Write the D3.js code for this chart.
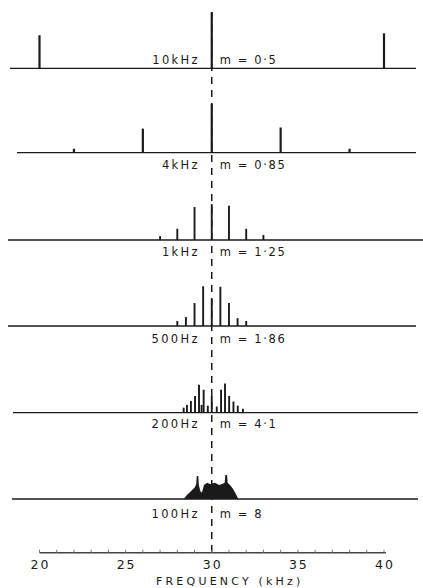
<!DOCTYPE html>
<html><head><meta charset="utf-8">
<script src="https://cdn.jsdelivr.net/npm/d3@7/dist/d3.min.js"></script>
<style>body{margin:0;background:#fff}svg{display:block}</style>
</head><body>
<script>
// ---------------- DATA ----------------
const carrierKHz = 30;
const modFreqs = ["10kHz", "4kHz", "1kHz", "500Hz", "200Hz", "100Hz"];
const modIndex = ["m = 0·5", "m = 0·85", "m = 1·25", "m = 1·86", "m = 4·1", "m = 8"];

// spectral lines: offset from carrier (kHz) and relative amplitude
const p1Offsets = [-10, 0, 10];
const p1Amps    = [0.59, 1.0, 0.625];
const p2Offsets = [-8, -4, 0, 4, 8];
const p2Amps    = [0.07, 0.43, 0.875, 0.45, 0.07];
const p3Offsets = [-3, -2, -1, 0, 1, 2, 3];
const p3Amps    = [0.07, 0.2, 0.59, 0.64, 0.61, 0.2, 0.09];
const p4Offsets = [-2, -1.5, -1, -0.5, 0, 0.5, 1, 1.5, 2];
const p4Amps    = [0.09, 0.16, 0.41, 0.71, 0.48, 0.70, 0.41, 0.14, 0.09];
const p5Offsets = [-1.63, -1.44, -1.21, -0.97, -0.74, -0.59, -0.47, -0.23, 0, 0.29, 0.54, 0.77, 1.01, 1.26, 1.51, 1.81];
const p5Amps    = [0.09, 0.14, 0.21, 0.30, 0.50, 0.14, 0.41, 0.125, 0.30, 0.11, 0.41, 0.52, 0.30, 0.20, 0.125, 0.07];
// 100 Hz: lines merge into a filled envelope
const p6Offsets = [-1.62, -1.44, -1.21, -0.98, -0.90, -0.87, -0.78, -0.75, -0.66, -0.57, -0.45, -0.27, -0.10, 0.19, 0.42, 0.60, 0.75, 0.79, 0.89, 0.92, 1.06, 1.24, 1.36, 1.48, 1.54];
const p6Amps    = [0, 0.07, 0.14, 0.21, 0.27, 0.41, 0.41, 0.25, 0.14, 0.11, 0.25, 0.29, 0.27, 0.29, 0.25, 0.27, 0.29, 0.43, 0.43, 0.29, 0.25, 0.18, 0.11, 0.04, 0];

const axisMin = 20, axisMax = 40;
const tickLabels = ["20", "25", "30", "35", "40"];
const axisTitle = "FREQUENCY (kHz)";

// ---------------- LAYOUT ----------------
const W = 423, H = 588;
const svg = d3.select("body").append("svg").attr("width", W).attr("height", H)
  .style("background", "#fff");

const x = d3.scaleLinear().domain([axisMin, axisMax]).range([39.5, 384]);
const amp = d3.scaleLinear().domain([0, 1]).range([0, 56]);
const panelBase = [68.3, 152.7, 240, 326, 412.7, 499];

const lineSets = [
  [p1Offsets, p1Amps], [p2Offsets, p2Amps], [p3Offsets, p3Amps],
  [p4Offsets, p4Amps], [p5Offsets, p5Amps]
];
const baseExtents = [[10, 416], [17, 416], [8, 423], [8, 416], [13, 418], [12, 418]];
const labelDy = [-4.5, 16, 16, 17, 15.5, 18.5];
const ink = "#1a1a1a";
const font = "'DejaVu Sans', sans-serif";

const cx = x(carrierKHz);

// dashed carrier marker
svg.append("line")
  .attr("x1", cx).attr("x2", cx)
  .attr("y1", 12).attr("y2", 552)
  .attr("stroke", ink).attr("stroke-width", 1.5)
  .attr("stroke-dasharray", "7 6");

d3.range(6).forEach(i => {
  const y0 = panelBase[i];
  const g = svg.append("g");
  g.append("line")
    .attr("x1", baseExtents[i][0]).attr("x2", baseExtents[i][1])
    .attr("y1", y0).attr("y2", y0)
    .attr("stroke", ink).attr("stroke-width", 1.3);

  if (i < 5) {
    const [offs, amps] = lineSets[i];
    g.selectAll("line.spec").data(offs.map((o, k) => ({o, a: amps[k]})))
      .join("line").attr("class", "spec")
      .attr("x1", d => x(carrierKHz + d.o)).attr("x2", d => x(carrierKHz + d.o))
      .attr("y1", y0).attr("y2", d => y0 - amp(d.a))
      .attr("stroke", ink).attr("stroke-width", i < 2 ? 2.2 : 1.9);
  } else {
    const pts = p6Offsets.map((o, k) => ({o, a: p6Amps[k]}));
    const area = d3.area()
      .x(d => x(carrierKHz + d.o))
      .y0(y0).y1(d => y0 - amp(d.a));
    g.append("path").attr("d", area(pts)).attr("fill", ink);
  }

  g.append("text")
    .attr("x", cx - 12).attr("y", y0 + labelDy[i])
    .attr("text-anchor", "end")
    .attr("font-family", font).attr("font-size", 11.5)
    .attr("letter-spacing", 2.3).attr("fill", ink)
    .text(modFreqs[i]);
  g.append("text")
    .attr("x", cx + 8).attr("y", y0 + labelDy[i])
    .attr("text-anchor", "start")
    .attr("font-family", font).attr("font-size", 11.5)
    .attr("letter-spacing", 1.6).attr("fill", ink)
    .text(modIndex[i]);
});

// frequency axis
const axisY = 552.7;
const ag = svg.append("g");
ag.append("line")
  .attr("x1", x(axisMin)).attr("x2", x(axisMax) + 2)
  .attr("y1", axisY).attr("y2", axisY)
  .attr("stroke", "#444").attr("stroke-width", 1.6);
ag.selectAll("line.tk").data(d3.range(axisMin, axisMax + 1))
  .join("line").attr("class", "tk")
  .attr("x1", d => x(d)).attr("x2", d => x(d))
  .attr("y1", axisY).attr("y2", axisY - 3)
  .attr("stroke", "#777").attr("stroke-width", 1);
ag.selectAll("text.tl").data(tickLabels)
  .join("text").attr("class", "tl")
  .attr("x", d => x(+d) + 1).attr("y", axisY + 16.5)
  .attr("text-anchor", "middle")
  .attr("font-family", font).attr("font-size", 12.5)
  .attr("letter-spacing", 2).attr("fill", ink)
  .text(d => d);
ag.append("text")
  .attr("x", 156).attr("y", 585)
  .attr("font-family", font).attr("font-size", 11)
  .attr("letter-spacing", 3.2).attr("fill", ink)
  .text(axisTitle);
</script>
</body></html>
